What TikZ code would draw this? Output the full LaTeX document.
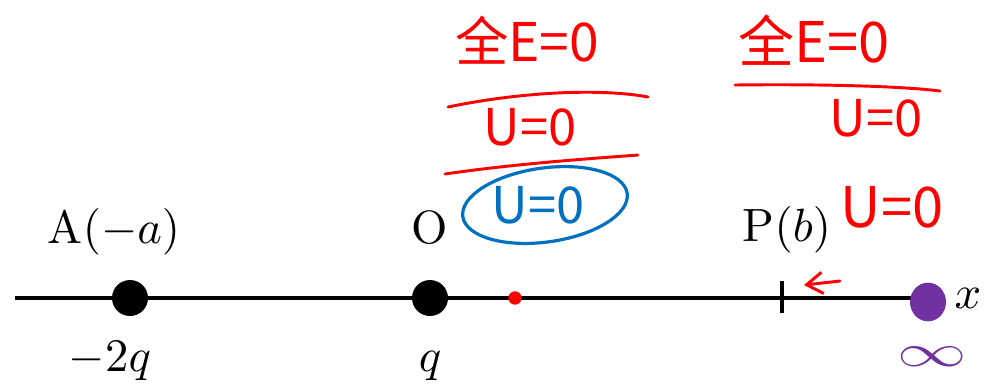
\documentclass[tikz,border=0pt]{standalone}
\usepackage{fontspec}
\usetikzlibrary{arrows.meta,shapes.geometric}
\newfontfamily\hand{Noto Sans CJK SC}
\definecolor{inkred}{RGB}{255,0,0}
\definecolor{inkblue}{RGB}{0,112,192}
\definecolor{inkpurple}{RGB}{112,48,160}
\tikzset{
  charge/.style={circle,fill=black,inner sep=0pt,minimum size=27pt},
  lab/.style={inner sep=0pt,anchor=base,font=\normalsize,scale=3.5},
  redink/.style={inkred,line width=2.2pt,line cap=round,line join=round},
  redtxt/.style={inkred,inner sep=0pt,font=\hand\fontsize{#1}{#1}\selectfont},
  axisline/.style={line width=2.4pt,-{Stealth[length=14pt,width=12pt]}}
}
\begin{document}
\begin{tikzpicture}[x=0.75pt,y=-0.75pt]
\useasboundingbox (0,0) rectangle (988,390);
% axis
\coordinate (axL) at (15,298);
\coordinate (axR) at (945,298);
\draw[axisline] (axL) -- (axR);
\node[lab] (xl) at (968,308) {$x$};
% charges
\node[charge] (A) at (130,298) {};
\node[charge] (O) at (430,298) {};
\node[lab] (Al) at (114,243) {A$(-a)$};
\node[lab] (Ol) at (430,243) {O};
\node[lab] (Aq) at (110,371) {$-2q$};
\node[lab] (Oq) at (430,371) {$q$};
% P tick
\coordinate (Pt) at (782,281);
\coordinate (Pb) at (782,313);
\draw[line width=2.4pt] (Pt) -- (Pb);
\node[lab] (Pl) at (787,241) {P$(b)$};
% red dot
\node[circle,fill=inkred,inner sep=0pt,minimum size=10pt] (rd) at (515,298) {};
% red arrow
\coordinate (ra1) at (840,281);
\coordinate (ra2) at (804,285);
\draw[redink,-{Straight Barb[length=12pt,width=16pt,line width=2.2pt]}] (ra1) -- (ra2);
% red annotations (left)
\node[redtxt=40] (t1) at (527,40) {全E=0};
\draw[redink] (448,107) .. controls (520,92) and (600,88) .. (648,97);
\node[redtxt=38] (t2) at (530,127) {U=0};
\draw[redink] (445,174) .. controls (520,163) and (600,158) .. (638,155);
% blue circled
\node[inkblue,inner sep=0pt,font=\hand\fontsize{38}{38}\selectfont] (t3) at (538,205) {U=0};
\draw[inkblue,line width=2.4pt,rotate around={8:(545,205)}] (545,205) ellipse [x radius=83, y radius=37];
% red annotations (right)
\node[redtxt=42] (t4) at (814,40) {全E=0};
\draw[redink] (735,85) .. controls (820,84) and (900,86) .. (940,91);
\node[redtxt=38] (t5) at (876,118) {U=0};
\node[redtxt=42] (t6) at (892,207) {U=0};
% purple scribble at infinity
\node[ellipse,fill=inkpurple,inner sep=0pt,minimum width=27pt,minimum height=29pt] (inf) at (928,302) {};
\node[inkpurple,inner sep=0pt,xscale=5.2,yscale=3.4] (infl) at (932,357) {$\infty$};
\end{tikzpicture}
\end{document}
